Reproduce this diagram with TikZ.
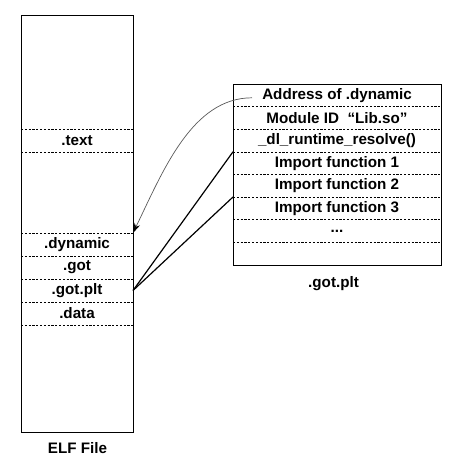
\documentclass[tikz,border=0pt]{standalone}
\usepackage{fontspec}
\setmainfont{Liberation Sans}
\usetikzlibrary{calc,arrows.meta}
\begin{document}
\begin{tikzpicture}[x=1pt,y=1pt,
  every node/.style={font=\fontsize{15.2}{18}\selectfont\bfseries},
  boxline/.style={draw=black,line width=1.1pt},
  sepline/.style={draw=black,line width=0.6pt,dash pattern=on 2.2pt off 1.6pt},
  elfrow/.style={minimum width=112pt,minimum height=23pt,inner sep=0pt,outer sep=0pt},
  gotrow/.style={minimum width=208pt,minimum height=22.6pt,inner sep=0pt,outer sep=0pt},
  link/.style={draw=black,line width=1.2pt},
  curvearrow/.style={draw=black!65,line width=0.7pt,arrows={-Stealth[length=10pt,width=6pt,color=black]}}]
\useasboundingbox (0,0) rectangle (455,-463);
% ELF file box
\node[boxline,minimum width=112pt,minimum height=417pt,inner sep=0pt,anchor=north west] (elf) at (21,-15) {};
\node[elfrow,anchor=north west] (etext) at (21,-129) {.text};
\node[elfrow,anchor=north west] (edyn) at (21,-233) {.dynamic};
\node[elfrow,anchor=north west] (egot) at (21,-256) {.got};
\node[elfrow,anchor=north west] (egotplt) at (21,-279) {.got.plt};
\node[elfrow,anchor=north west] (edata) at (21,-302) {.data};
\foreach \r in {etext,edyn,egot,egotplt,edata}{
  \draw[sepline] (\r.north west) -- (\r.north east);}
\draw[sepline] (etext.south west) -- (etext.south east);
\draw[sepline] (edata.south west) -- (edata.south east);
\node[anchor=north] (elflabel) at ($(elf.south)+(0,-6)$) {ELF File};
% .got.plt box
\node[boxline,minimum width=208pt,minimum height=181pt,inner sep=0pt,anchor=north west] (got) at (233,-84) {};
\node[gotrow,anchor=north west] (addr) at (233,-84) {Address of .dynamic};
\node[gotrow,anchor=north west] (modid) at (233,-106.6) {Module ID \ “Lib.so”};
\node[gotrow,anchor=north west] (dlres) at (233,-129.2) {\_dl\_runtime\_resolve()};
\node[gotrow,anchor=north west] (imp1) at (233,-151.8) {Import function 1};
\node[gotrow,anchor=north west] (imp2) at (233,-174.4) {Import function 2};
\node[gotrow,anchor=north west] (imp3) at (233,-197) {Import function 3};
\node[gotrow,anchor=north west] (dots) at (233,-219.6) {...};
\node[gotrow,anchor=north west] (empty) at (233,-242.2) {};
\foreach \r in {modid,dlres,imp1,imp2,imp3,dots,empty}{
  \draw[sepline] (\r.north west) -- (\r.north east);}
\node[anchor=north] (gotlabel) at ($(got.south)+(-4,-7)$) {.got.plt};
% connectors
\coordinate (cstart) at ($(addr.west)+(19,-2.5)$);
\draw[curvearrow] (cstart) .. controls ($(cstart)+(-60,0)$) and ($(edyn.north east)+(30,62)$) .. (edyn.north east);
\draw[link] (egotplt.east) -- (imp1.north west);
\draw[link] (egotplt.east) -- (imp3.north west);
\end{tikzpicture}
\end{document}
